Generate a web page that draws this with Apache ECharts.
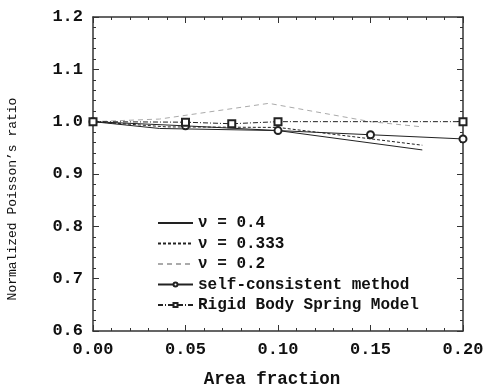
<!DOCTYPE html>
<html>
<head>
<meta charset="utf-8">
<script src="https://cdn.jsdelivr.net/npm/echarts@6/dist/echarts.min.js"></script>
<style>
  html, body { margin: 0; padding: 0; background: #fff; }
  #chart { width: 487px; height: 389px; }
</style>
</head>
<body>
<div id="chart"></div>
<script>
// Normalized Poisson's ratio vs area fraction
const seriesNames = ['ν = 0.4', 'ν = 0.333', 'ν = 0.2', 'self-consistent method', 'Rigid Body Spring Model'];

const x04 = [0, 0.036, 0.1, 0.178];
const y04 = [1.0, 0.987, 0.983, 0.946];
const x0333 = [0, 0.04, 0.1, 0.178];
const y0333 = [1.0, 0.99, 0.989, 0.955];
const x02 = [0, 0.036, 0.095, 0.15, 0.178];
const y02 = [1.0, 1.005, 1.035, 1.0, 0.99];
const xSelf = [0, 0.05, 0.1, 0.15, 0.2];
const ySelf = [1.0, 0.992, 0.983, 0.975, 0.967];
const xRbsm = [0, 0.05, 0.075, 0.1, 0.2];
const yRbsm = [1.0, 0.999, 0.996, 1.0, 1.0];

const pairs = (xs, ys) => xs.map((x, i) => [x, ys[i]]);

const FONT = '"Liberation Mono", "DejaVu Sans Mono", monospace';
const chart = echarts.init(document.getElementById('chart'));

const axisCommon = {
    axisLine: { show: true, onZero: false, lineStyle: { color: '#333', width: 1.5 } },
    axisTick: { show: true, inside: true, length: 6, lineStyle: { color: '#333', width: 1 } },
    minorTick: { show: true, splitNumber: 5, length: 3, lineStyle: { color: '#333', width: 1 } },
    splitLine: { show: false }
};

const xBase = { type: 'value', min: 0, max: 0.2, interval: 0.05 };
const yBase = { type: 'value', min: 0.6, max: 1.2, interval: 0.1 };

// legend: no marker for the plain lines
const legendData = seriesNames.map((n, i) => i < 3 ? { name: n, itemStyle: { opacity: 0 } } : { name: n });

const options = {
    animation: false,
    backgroundColor: '#fff',
    grid: { left: 93, right: 24, top: 17, bottom: 58, outerBoundsMode: 'none' },
    legend: {
        orient: 'vertical',
        left: 157,
        top: 215,
        padding: 0,
        itemWidth: 35,
        itemHeight: 5,
        itemGap: 4.5,
        data: legendData,
        textStyle: { fontFamily: FONT, fontWeight: 'bold', fontSize: 16, color: '#111', lineHeight: 16 }
    },
    xAxis: [
        Object.assign({}, xBase, axisCommon, {
            position: 'bottom',
            name: 'Area fraction',
            nameLocation: 'middle',
            nameGap: 40,
            nameTextStyle: { fontFamily: FONT, fontWeight: 'bold', fontSize: 17.5, color: '#111', padding: [0, 12, 0, 0] },
            axisLabel: {
                margin: 10, fontFamily: FONT, fontWeight: 'bold', fontSize: 17, color: '#111',
                formatter: v => v.toFixed(2)
            }
        }),
        Object.assign({}, xBase, axisCommon, { position: 'top', axisLabel: { show: false } })
    ],
    yAxis: [
        Object.assign({}, yBase, axisCommon, {
            position: 'left',
            name: 'Normalized Poisson\u2019s ratio',
            nameLocation: 'middle',
            nameGap: 74,
            nameTextStyle: { fontFamily: FONT, fontSize: 13, color: '#111', padding: [0, 50, 0, 0] },
            axisLabel: {
                margin: 10, fontFamily: FONT, fontWeight: 'bold', fontSize: 17, color: '#111',
                formatter: v => v.toFixed(1)
            }
        }),
        Object.assign({}, yBase, axisCommon, { position: 'right', axisLabel: { show: false } })
    ],
    series: [
        {
            name: seriesNames[0], type: 'line', data: pairs(x04, y04), symbol: 'none',
            lineStyle: { color: '#222', width: 1, type: 'solid' }, itemStyle: { color: '#222' }
        },
        {
            name: seriesNames[1], type: 'line', data: pairs(x0333, y0333), symbol: 'none',
            lineStyle: { color: '#222', width: 1, type: [3, 2] }, itemStyle: { color: '#222' }
        },
        {
            name: seriesNames[2], type: 'line', data: pairs(x02, y02), symbol: 'none',
            lineStyle: { color: '#aaa', width: 1, type: [5, 4] }, itemStyle: { color: '#aaa' }
        },
        {
            name: seriesNames[3], type: 'line', data: pairs(xSelf, ySelf),
            symbol: 'emptyCircle', symbolSize: 7,
            lineStyle: { color: '#222', width: 1 }, itemStyle: { color: '#222', borderWidth: 1 }
        },
        {
            name: seriesNames[4], type: 'line', data: pairs(xRbsm, yRbsm),
            symbol: 'emptyRect', symbolSize: 7,
            lineStyle: { color: '#222', width: 1, type: [5, 2, 1, 2] }, itemStyle: { color: '#222', borderWidth: 1 }
        }
    ]
};

chart.setOption(options);
</script>
</body>
</html>
